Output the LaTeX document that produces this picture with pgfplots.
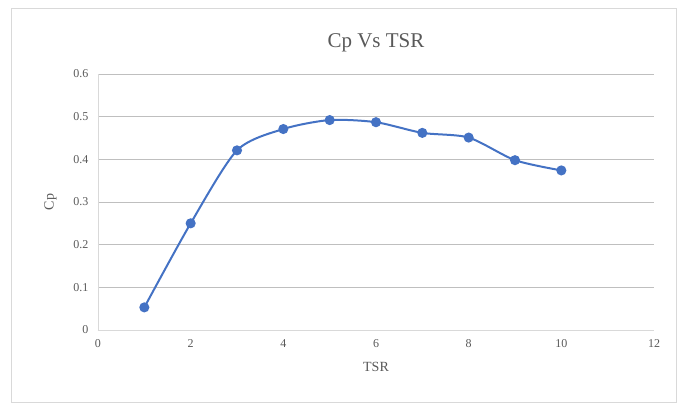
\documentclass[border=0pt]{standalone}
\usepackage{pgfplots}
\pgfplotsset{compat=1.18}
\usepackage{fontspec}
\setmainfont{Liberation Serif}
\definecolor{txt}{HTML}{595959}
\definecolor{grid}{HTML}{D9D9D9}
\definecolor{ser}{HTML}{4472C4}
\begin{document}
\begin{tikzpicture}[x=1pt,y=1pt]
\useasboundingbox (0,0) rectangle (686,406);
\draw[grid, line width=0.8pt] (11,4) rectangle (676,398);
\begin{axis}[
  at={(98pt,76pt)}, anchor=south west,
  scale only axis, width=556pt, height=256pt,
  xmin=0, xmax=12, ymin=0, ymax=0.6,
  xtick={0,2,...,12}, ytick={0,0.1,...,0.6},
  yticklabel style={/pgf/number format/fixed,/pgf/number format/precision=1},
  /pgf/number format/assume math mode=true,
  axis x line*=bottom, axis y line*=left,
  axis line style={grid, line width=0.8pt},
  x axis line style={-}, y axis line style={-},
  xmajorgrids=false, ymajorgrids=true, grid style={grid, line width=0.8pt},
  xtick style={draw=none}, ytick style={draw=none},
  tick label style={font=\fontsize{12}{14}\selectfont, text=txt},
  xticklabel style={yshift=-6pt},
  yticklabel style={xshift=-6pt},
  title={Cp Vs TSR}, title style={font=\fontsize{21}{24}\selectfont, text=txt, at={(0.5,1)}, yshift=12pt},
  xlabel={TSR}, ylabel={Cp},
  label style={font=\fontsize{14}{16}\selectfont, text=txt},
  xlabel style={yshift=-8pt},
  ylabel style={yshift=10pt},
]
\addplot[ser, line width=2pt, smooth, tension=0.45, mark=*, mark size=4pt, mark options={fill=ser, draw=ser}]
coordinates {(1,0.053) (2,0.250) (3,0.421) (4,0.471) (5,0.492) (6,0.487) (7,0.462) (8,0.451) (9,0.398) (10,0.374)};
\end{axis}
\end{tikzpicture}
\end{document}
